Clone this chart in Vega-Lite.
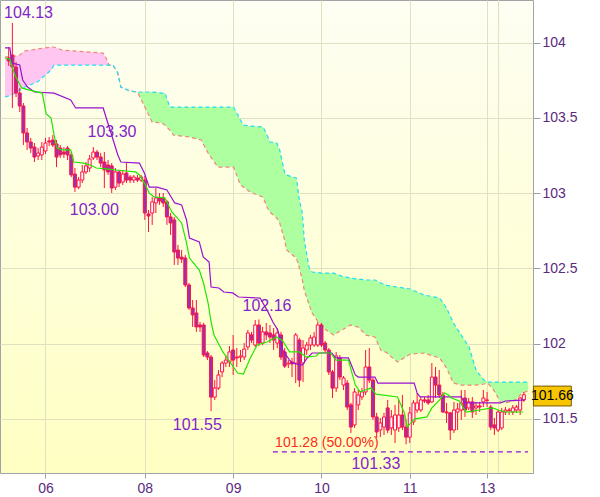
{
"$schema":"https://vega.github.io/schema/vega-lite/v6.json",
"width":533,"height":473,
"autosize":{"type":"none"},
"padding":{"left":0,"top":0,"right":67,"bottom":24},
"background":"#FFFFFF",
"config":{
"view":{"fill":{"gradient":"linear","x1":0,"y1":0,"x2":0,"y2":1,"stops":[{"offset":0,"color":"#FEFEF3"},{"offset":1,"color":"#FFFFC2"}]},"stroke":"#A0A4A8","strokeWidth":1},
"font":"Liberation Sans",
"axis":{"gridColor":"#E0E0C2","gridWidth":1,"domain":false,"labelFont":"Liberation Sans","labelFontSize":14,"labelColor":"#5B2A7E","tickColor":"#9A9EA2","title":null}
},
"datasets":{
"xgrid":[{"i":133.13}],
"candles":[
{"i":0,"o":103.897,"h":103.970,"l":103.844,"c":103.877},
{"i":1,"o":103.917,"h":104.13,"l":103.565,"c":103.837},
{"i":2,"o":103.837,"h":103.871,"l":103.637,"c":103.664},
{"i":3,"o":103.664,"h":103.698,"l":103.538,"c":103.578},
{"i":4,"o":103.578,"h":103.598,"l":103.319,"c":103.399},
{"i":5,"o":103.399,"h":103.432,"l":103.286,"c":103.339},
{"i":6,"o":103.339,"h":103.366,"l":103.266,"c":103.299},
{"i":7,"o":103.305,"h":103.332,"l":103.206,"c":103.239},
{"i":8,"o":103.246,"h":103.299,"l":103.219,"c":103.266},
{"i":9,"o":103.253,"h":103.339,"l":103.219,"c":103.305},
{"i":10,"o":103.279,"h":103.366,"l":103.259,"c":103.332},
{"i":11,"o":103.346,"h":103.372,"l":103.312,"c":103.339},
{"i":12,"o":103.352,"h":103.386,"l":103.305,"c":103.319},
{"i":13,"o":103.326,"h":103.352,"l":103.172,"c":103.239},
{"i":14,"o":103.299,"h":103.319,"l":103.233,"c":103.253},
{"i":15,"o":103.272,"h":103.305,"l":103.233,"c":103.259},
{"i":16,"o":103.299,"h":103.312,"l":103.219,"c":103.253},
{"i":17,"o":103.253,"h":103.272,"l":103.106,"c":103.120},
{"i":18,"o":103.126,"h":103.166,"l":103.007,"c":103.039},
{"i":19,"o":103.039,"h":103.106,"l":103.026,"c":103.086},
{"i":20,"o":103.086,"h":103.186,"l":103.066,"c":103.140},
{"i":21,"o":103.140,"h":103.206,"l":103.126,"c":103.180},
{"i":22,"o":103.166,"h":103.253,"l":103.140,"c":103.226},
{"i":23,"o":103.233,"h":103.305,"l":103.219,"c":103.272},
{"i":24,"o":103.272,"h":103.286,"l":103.219,"c":103.239},
{"i":25,"o":103.239,"h":103.266,"l":103.172,"c":103.199},
{"i":26,"o":103.206,"h":103.272,"l":103.033,"c":103.153},
{"i":27,"o":103.186,"h":103.219,"l":103.120,"c":103.140},
{"i":28,"o":103.180,"h":103.199,"l":103.000,"c":103.033},
{"i":29,"o":103.039,"h":103.166,"l":103.020,"c":103.140},
{"i":30,"o":103.140,"h":103.153,"l":103.039,"c":103.066},
{"i":31,"o":103.073,"h":103.153,"l":103.053,"c":103.126},
{"i":32,"o":103.133,"h":103.199,"l":103.066,"c":103.086},
{"i":33,"o":103.106,"h":103.120,"l":103.066,"c":103.086},
{"i":34,"o":103.086,"h":103.120,"l":103.066,"c":103.106},
{"i":35,"o":103.099,"h":103.120,"l":103.073,"c":103.086},
{"i":36,"o":103.086,"h":103.120,"l":103.073,"c":103.106},
{"i":37,"o":103.086,"h":103.113,"l":102.821,"c":102.867},
{"i":38,"o":102.861,"h":102.887,"l":102.741,"c":102.847},
{"i":39,"o":102.867,"h":102.974,"l":102.788,"c":102.941},
{"i":40,"o":102.934,"h":103.033,"l":102.867,"c":102.967},
{"i":41,"o":102.967,"h":103.000,"l":102.921,"c":102.947},
{"i":42,"o":102.967,"h":103.000,"l":102.907,"c":102.934},
{"i":43,"o":102.941,"h":102.954,"l":102.788,"c":102.841},
{"i":44,"o":102.841,"h":102.867,"l":102.721,"c":102.801},
{"i":45,"o":102.821,"h":102.841,"l":102.522,"c":102.608},
{"i":46,"o":102.621,"h":102.655,"l":102.522,"c":102.568},
{"i":47,"o":102.574,"h":102.621,"l":102.535,"c":102.561},
{"i":48,"o":102.568,"h":102.588,"l":102.375,"c":102.389},
{"i":49,"o":102.389,"h":102.402,"l":102.223,"c":102.236},
{"i":50,"o":102.236,"h":102.289,"l":102.110,"c":102.190},
{"i":51,"o":102.203,"h":102.289,"l":102.077,"c":102.110},
{"i":52,"o":102.123,"h":102.143,"l":102.077,"c":102.110},
{"i":53,"o":102.123,"h":102.137,"l":101.910,"c":101.924},
{"i":54,"o":101.937,"h":101.950,"l":101.890,"c":101.910},
{"i":55,"o":101.910,"h":101.924,"l":101.55,"c":101.644},
{"i":56,"o":101.644,"h":101.757,"l":101.625,"c":101.704},
{"i":57,"o":101.704,"h":101.824,"l":101.691,"c":101.791},
{"i":58,"o":101.811,"h":101.884,"l":101.777,"c":101.870},
{"i":59,"o":101.870,"h":101.924,"l":101.844,"c":101.890},
{"i":60,"o":101.877,"h":101.983,"l":101.844,"c":101.944},
{"i":61,"o":101.957,"h":102.057,"l":101.791,"c":101.890},
{"i":62,"o":101.910,"h":101.970,"l":101.844,"c":101.904},
{"i":63,"o":101.910,"h":101.957,"l":101.877,"c":101.917},
{"i":64,"o":101.910,"h":102.003,"l":101.890,"c":101.963},
{"i":65,"o":101.977,"h":102.090,"l":101.957,"c":102.070},
{"i":66,"o":102.057,"h":102.077,"l":102.003,"c":102.023},
{"i":67,"o":101.990,"h":102.156,"l":101.977,"c":102.123},
{"i":68,"o":102.123,"h":102.16,"l":101.983,"c":102.003},
{"i":69,"o":102.003,"h":102.110,"l":101.990,"c":102.077},
{"i":70,"o":102.077,"h":102.136,"l":102.023,"c":102.057},
{"i":71,"o":102.070,"h":102.123,"l":102.003,"c":102.043},
{"i":72,"o":102.057,"h":102.103,"l":101.957,"c":102.023},
{"i":73,"o":102.003,"h":102.103,"l":101.970,"c":102.070},
{"i":74,"o":102.057,"h":102.077,"l":101.890,"c":101.910},
{"i":75,"o":101.944,"h":101.970,"l":101.837,"c":101.850},
{"i":76,"o":101.864,"h":101.890,"l":101.837,"c":101.870},
{"i":77,"o":101.877,"h":101.904,"l":101.777,"c":101.864},
{"i":78,"o":101.870,"h":102.070,"l":101.737,"c":102.057},
{"i":79,"o":102.023,"h":102.037,"l":101.711,"c":101.757},
{"i":80,"o":101.870,"h":102.023,"l":101.744,"c":101.970},
{"i":81,"o":101.957,"h":102.010,"l":101.924,"c":101.990},
{"i":82,"o":101.990,"h":102.057,"l":101.957,"c":102.037},
{"i":83,"o":101.990,"h":102.077,"l":101.977,"c":102.043},
{"i":84,"o":101.990,"h":102.143,"l":101.977,"c":102.123},
{"i":85,"o":102.123,"h":102.137,"l":101.977,"c":101.990},
{"i":86,"o":102.003,"h":102.017,"l":101.937,"c":101.957},
{"i":87,"o":101.957,"h":101.970,"l":101.791,"c":101.811},
{"i":88,"o":101.811,"h":101.824,"l":101.638,"c":101.704},
{"i":89,"o":101.704,"h":101.944,"l":101.678,"c":101.917},
{"i":90,"o":101.904,"h":101.924,"l":101.757,"c":101.777},
{"i":91,"o":101.724,"h":101.784,"l":101.691,"c":101.771},
{"i":92,"o":101.737,"h":101.757,"l":101.558,"c":101.578},
{"i":93,"o":101.592,"h":101.605,"l":101.405,"c":101.445},
{"i":94,"o":101.459,"h":101.704,"l":101.439,"c":101.678},
{"i":95,"o":101.592,"h":101.691,"l":101.558,"c":101.658},
{"i":96,"o":101.645,"h":101.704,"l":101.625,"c":101.678},
{"i":97,"o":101.678,"h":101.957,"l":101.658,"c":101.844},
{"i":98,"o":101.844,"h":101.970,"l":101.737,"c":101.757},
{"i":99,"o":101.757,"h":101.771,"l":101.492,"c":101.512},
{"i":100,"o":101.512,"h":101.539,"l":101.372,"c":101.412},
{"i":101,"o":101.425,"h":101.505,"l":101.378,"c":101.472},
{"i":102,"o":101.445,"h":101.539,"l":101.392,"c":101.512},
{"i":103,"o":101.572,"h":101.625,"l":101.405,"c":101.425},
{"i":104,"o":101.439,"h":101.558,"l":101.392,"c":101.512},
{"i":105,"o":101.425,"h":101.592,"l":101.339,"c":101.525},
{"i":106,"o":101.439,"h":101.625,"l":101.412,"c":101.525},
{"i":107,"o":101.525,"h":101.658,"l":101.425,"c":101.445},
{"i":108,"o":101.445,"h":101.492,"l":101.33,"c":101.378},
{"i":109,"o":101.378,"h":101.578,"l":101.339,"c":101.539},
{"i":110,"o":101.479,"h":101.625,"l":101.459,"c":101.605},
{"i":111,"o":101.558,"h":101.671,"l":101.539,"c":101.605},
{"i":112,"o":101.558,"h":101.645,"l":101.545,"c":101.625},
{"i":113,"o":101.625,"h":101.645,"l":101.605,"c":101.618},
{"i":114,"o":101.625,"h":101.658,"l":101.592,"c":101.605},
{"i":115,"o":101.612,"h":101.870,"l":101.605,"c":101.777},
{"i":116,"o":101.777,"h":101.844,"l":101.638,"c":101.724},
{"i":117,"o":101.724,"h":101.824,"l":101.638,"c":101.658},
{"i":118,"o":101.658,"h":101.678,"l":101.539,"c":101.545},
{"i":119,"o":101.545,"h":101.605,"l":101.472,"c":101.539},
{"i":120,"o":101.539,"h":101.545,"l":101.359,"c":101.425},
{"i":121,"o":101.425,"h":101.612,"l":101.405,"c":101.558},
{"i":122,"o":101.545,"h":101.605,"l":101.425,"c":101.565},
{"i":123,"o":101.558,"h":101.691,"l":101.492,"c":101.605},
{"i":124,"o":101.638,"h":101.691,"l":101.512,"c":101.558},
{"i":125,"o":101.572,"h":101.638,"l":101.558,"c":101.612},
{"i":126,"o":101.612,"h":101.645,"l":101.505,"c":101.545},
{"i":127,"o":101.572,"h":101.612,"l":101.525,"c":101.585},
{"i":128,"o":101.585,"h":101.612,"l":101.545,"c":101.578},
{"i":129,"o":101.612,"h":101.691,"l":101.578,"c":101.638},
{"i":130,"o":101.625,"h":101.678,"l":101.578,"c":101.622},
{"i":131,"o":101.578,"h":101.592,"l":101.425,"c":101.445},
{"i":132,"o":101.459,"h":101.505,"l":101.392,"c":101.439},
{"i":133,"o":101.425,"h":101.558,"l":101.412,"c":101.545},
{"i":134,"o":101.439,"h":101.572,"l":101.425,"c":101.545},
{"i":135,"o":101.545,"h":101.578,"l":101.525,"c":101.558},
{"i":136,"o":101.558,"h":101.572,"l":101.525,"c":101.555},
{"i":137,"o":101.545,"h":101.592,"l":101.525,"c":101.572},
{"i":138,"o":101.558,"h":101.592,"l":101.539,"c":101.578},
{"i":139,"o":101.558,"h":101.645,"l":101.525,"c":101.638},
{"i":140,"o":101.625,"h":101.678,"l":101.612,"c":101.66}
],
"cloud":[
{"i":-1,"a":103.638,"b":103.904},{"i":0.87,"a":103.651,"b":103.904},{"i":3,"a":103.684,"b":103.917},{"i":4.33,"a":103.704,"b":103.943},
{"i":7.8,"a":103.737,"b":103.957},{"i":11.53,"a":103.817,"b":103.970},{"i":12.33,"a":103.850,"b":103.970},{"i":14.47,"a":103.850,"b":103.950},
{"i":25.67,"a":103.850,"b":103.930},{"i":26.47,"a":103.850,"b":103.897},{"i":27.27,"a":103.850,"b":103.850},{"i":28.33,"a":103.850,"b":103.850},
{"i":29.67,"a":103.797,"b":103.797},{"i":30.47,"a":103.704,"b":103.704},{"i":32.87,"a":103.678,"b":103.678},{"i":35,"a":103.671,"b":103.671},
{"i":39,"a":103.671,"b":103.471},{"i":41.67,"a":103.664,"b":103.465},{"i":42.47,"a":103.664,"b":103.451},{"i":43.8,"a":103.571,"b":103.418},
{"i":44.87,"a":103.571,"b":103.385},{"i":49.13,"a":103.571,"b":103.372},{"i":52.33,"a":103.571,"b":103.352},{"i":54.2,"a":103.571,"b":103.265},
{"i":56.87,"a":103.571,"b":103.172},{"i":61.13,"a":103.571,"b":103.172},{"i":63,"a":103.485,"b":103.053},{"i":63.8,"a":103.451,"b":103.040},
{"i":65.67,"a":103.445,"b":103.006},{"i":69.13,"a":103.438,"b":102.973},{"i":70.2,"a":103.385,"b":102.907},{"i":71,"a":103.339,"b":102.873},
{"i":72.87,"a":103.332,"b":102.834},{"i":73.67,"a":103.285,"b":102.800},{"i":75,"a":103.133,"b":102.687},{"i":75.53,"a":103.119,"b":102.621},
{"i":78.2,"a":103.099,"b":102.568},{"i":79,"a":102.953,"b":102.501},{"i":79.8,"a":102.867,"b":102.422},{"i":80.33,"a":102.687,"b":102.355},
{"i":81.67,"a":102.501,"b":102.255},{"i":82.47,"a":102.475,"b":102.202},{"i":85.13,"a":102.468,"b":102.109},{"i":88.33,"a":102.468,"b":102.056},
{"i":90.47,"a":102.448,"b":102.089},{"i":92.87,"a":102.435,"b":102.123},{"i":95,"a":102.428,"b":102.109},{"i":97.13,"a":102.422,"b":102.056},
{"i":99.53,"a":102.422,"b":102.043},{"i":101.13,"a":102.402,"b":101.956},{"i":102.47,"a":102.388,"b":101.943},{"i":105.67,"a":102.375,"b":101.877},
{"i":109.13,"a":102.362,"b":101.930},{"i":112.87,"a":102.322,"b":101.937},{"i":117.13,"a":102.302,"b":101.903},{"i":119,"a":102.236,"b":101.837},
{"i":120.87,"a":102.136,"b":101.737},{"i":123,"a":102.056,"b":101.724},{"i":125.13,"a":101.976,"b":101.724},{"i":127,"a":101.824,"b":101.724},
{"i":129.13,"a":101.757,"b":101.731},{"i":130.2,"a":101.744,"b":101.737},{"i":131.8,"a":101.744,"b":101.691},{"i":133.67,"a":101.744,"b":101.611},
{"i":135,"a":101.744,"b":101.604},{"i":137.67,"a":101.744,"b":101.624},{"i":139.53,"a":101.744,"b":101.671},{"i":141.13,"a":101.744,"b":101.684}
],
"kijun":[
{"i":-1,"p":103.964},{"i":0.33,"p":103.964},{"i":0.87,"p":103.864},{"i":3,"p":103.851},{"i":3.8,"p":103.751},{"i":5.13,"p":103.704},
{"i":7,"p":103.671},{"i":12.33,"p":103.664},{"i":16.87,"p":103.618},{"i":18.2,"p":103.565},{"i":25.67,"p":103.565},{"i":27.8,"p":103.399},
{"i":29.67,"p":103.253},{"i":30.47,"p":103.206},{"i":35.53,"p":103.199},{"i":36.87,"p":103.133},{"i":38.2,"p":103.039},{"i":40.33,"p":103.039},
{"i":43,"p":103.020},{"i":45.13,"p":102.934},{"i":47,"p":102.921},{"i":48.33,"p":102.821},{"i":49.13,"p":102.701},{"i":51.8,"p":102.675},
{"i":52.87,"p":102.575},{"i":54.47,"p":102.542},{"i":55,"p":102.375},{"i":57.13,"p":102.369},{"i":58.47,"p":102.342},{"i":60.87,"p":102.336},
{"i":62.47,"p":102.309},{"i":68.33,"p":102.302},{"i":70.47,"p":102.210},{"i":71.8,"p":102.143},{"i":73.13,"p":102.090},{"i":74.47,"p":101.957},
{"i":76.33,"p":101.890},{"i":77.13,"p":101.870},{"i":79.8,"p":101.857},{"i":81.13,"p":101.904},{"i":82.47,"p":101.937},{"i":87.8,"p":101.937},
{"i":88.87,"p":101.904},{"i":92.33,"p":101.904},{"i":93.13,"p":101.857},{"i":94.2,"p":101.791},{"i":95,"p":101.777},{"i":99.53,"p":101.777},
{"i":100.33,"p":101.737},{"i":110.2,"p":101.737},{"i":111,"p":101.671},{"i":111.8,"p":101.645},{"i":123,"p":101.645},{"i":123.8,"p":101.605},
{"i":133.67,"p":101.605},{"i":135,"p":101.618},{"i":140.33,"p":101.625}
],
"tenkan":[
{"i":-1,"p":103.897},{"i":0.33,"p":103.890},{"i":1.67,"p":103.784},{"i":3.53,"p":103.698},{"i":5.67,"p":103.684},{"i":9.13,"p":103.664},
{"i":10.2,"p":103.525},{"i":11.53,"p":103.498},{"i":12.33,"p":103.386},{"i":13.13,"p":103.299},{"i":14.47,"p":103.286},{"i":16.87,"p":103.286},
{"i":17.67,"p":103.206},{"i":20.33,"p":103.199},{"i":22.2,"p":103.186},{"i":23.8,"p":103.166},{"i":26.47,"p":103.160},{"i":29.13,"p":103.153},
{"i":34.47,"p":103.140},{"i":35.53,"p":103.120},{"i":36.87,"p":103.066},{"i":38.2,"p":103.000},{"i":39.53,"p":102.974},{"i":42.47,"p":102.967},
{"i":44.33,"p":102.874},{"i":47,"p":102.801},{"i":48.33,"p":102.668},{"i":49.13,"p":102.568},{"i":51.8,"p":102.488},{"i":52.87,"p":102.409},
{"i":54.2,"p":102.269},{"i":55,"p":102.143},{"i":55.8,"p":102.057},{"i":58.2,"p":101.944},{"i":59.8,"p":101.890},{"i":62.2,"p":101.804},
{"i":63.8,"p":101.797},{"i":65.67,"p":101.904},{"i":67.53,"p":101.990},{"i":70.2,"p":102.010},{"i":72.87,"p":102.043},{"i":74.47,"p":102.017},
{"i":76.33,"p":101.944},{"i":79,"p":101.944},{"i":80.87,"p":101.910},{"i":83.53,"p":101.917},{"i":84.33,"p":101.937},{"i":87.53,"p":101.937},
{"i":88.87,"p":101.890},{"i":92.33,"p":101.890},{"i":94.2,"p":101.724},{"i":95.53,"p":101.678},{"i":96.87,"p":101.691},{"i":98.47,"p":101.704},
{"i":99.8,"p":101.664},{"i":105.67,"p":101.645},{"i":107.53,"p":101.539},{"i":108.33,"p":101.445},{"i":110.2,"p":101.498},{"i":113.67,"p":101.512},
{"i":115,"p":101.572},{"i":117.13,"p":101.625},{"i":118.47,"p":101.671},{"i":119.53,"p":101.658},{"i":120.33,"p":101.638},{"i":122.47,"p":101.618},
{"i":124.33,"p":101.545},{"i":127.8,"p":101.558},{"i":131.53,"p":101.572},{"i":133.13,"p":101.558},{"i":135,"p":101.545},{"i":139.8,"p":101.545}
],
"labels":[
{"i":5.4,"p":104.196,"t":"104.13"},
{"i":28.07,"p":103.405,"t":"103.30"},
{"i":23.27,"p":102.887,"t":"103.00"},
{"i":70.2,"p":102.249,"t":"102.16"},
{"i":51.27,"p":101.459,"t":"101.55"},
{"i":99.8,"p":101.199,"t":"101.33"}
],
"fib":[{"i":71.8,"i2":141.13,"p":101.28,"t":"101.28 (50.00%)","ti":86.47,"tp":101.339}],
"last":[{"i":142.6,"i2":152.9,"p1":101.717,"p2":101.585,"ti":147.75,"p":101.651,"t":"101.66"}]
},
"encoding":{
"x":{"field":"i","type":"quantitative","scale":{"domain":[-1,141.13],"nice":false,"zero":false},
"axis":{"values":[10,37,61,85,109,130],"labelExpr":"datum.value==10?'06':datum.value==37?'08':datum.value==61?'09':datum.value==85?'10':datum.value==109?'11':'13'","tickSize":5,"labelPadding":3,"grid":true,"labelFlush":false,"labelAlign":"center","title":null}}
},
"layer":[
{"data":{"name":"xgrid"},"mark":{"type":"rule","color":"#E0E0C2","strokeWidth":1},"encoding":{}},
{"data":{"name":"candles"},"mark":{"type":"rule","color":"#FF1040","strokeWidth":1},
"encoding":{"y":{"field":"l","type":"quantitative","scale":{"domain":[101.1396,104.2824],"nice":false,"zero":false},
"axis":{"orient":"right","title":null,"values":[101.5,102,102.5,103,103.5,104],"labelExpr":"format(datum.value,'.5~g')","tickSize":7,"labelPadding":2,"grid":true,"labelAlign":"left","labelBaseline":"middle"}},
"y2":{"field":"h"},"opacity":{"value":0}}},
{"data":{"name":"cloud"},"transform":[{"filter":"datum.i <= 27.27"}],"mark":{"type":"area","color":"#FFC6F2","opacity":1},
"encoding":{"y":{"field":"a","type":"quantitative"},"y2":{"field":"b"}}},
{"data":{"name":"cloud"},"transform":[{"filter":"datum.i >= 27.27"}],"mark":{"type":"area","color":"#AEFFA0","opacity":1},
"encoding":{"y":{"field":"a","type":"quantitative"},"y2":{"field":"b"}}},
{"data":{"name":"cloud"},"mark":{"type":"line","color":"#F08878","strokeWidth":1.2,"strokeDash":[4,3]},
"encoding":{"y":{"field":"b","type":"quantitative"}}},
{"data":{"name":"cloud"},"mark":{"type":"line","color":"#22DDF5","strokeWidth":1.2,"strokeDash":[4,3]},
"encoding":{"y":{"field":"a","type":"quantitative"}}},
{"data":{"name":"candles"},"mark":{"type":"rule","color":"#FF1040","strokeWidth":1},
"encoding":{"y":{"field":"l","type":"quantitative"},"y2":{"field":"h"}}},
{"data":{"name":"candles"},"mark":{"type":"bar","size":3,"stroke":"#FF1040","strokeWidth":1},
"encoding":{"y":{"field":"o","type":"quantitative"},"y2":{"field":"c"},
"fill":{"condition":{"test":"datum.c > datum.o","value":"#FFFFFF"},"value":"#9B30B0"}}},
{"data":{"name":"kijun"},"mark":{"type":"line","color":"#9A10D0","strokeWidth":1.2},
"encoding":{"y":{"field":"p","type":"quantitative"}}},
{"data":{"name":"tenkan"},"mark":{"type":"line","color":"#22E600","strokeWidth":1.2},
"encoding":{"y":{"field":"p","type":"quantitative"}}},
{"data":{"name":"fib"},"mark":{"type":"rule","color":"#8A10E0","strokeWidth":1.2,"strokeDash":[5,4]},
"encoding":{"x2":{"field":"i2"},"y":{"field":"p","type":"quantitative"}}},
{"data":{"name":"fib"},"mark":{"type":"text","color":"#FF2A1A","fontSize":14,"font":"Liberation Sans","align":"center","baseline":"middle"},
"encoding":{"x":{"field":"ti","type":"quantitative"},"y":{"field":"tp","type":"quantitative"},"text":{"field":"t"}}},
{"data":{"name":"labels"},"mark":{"type":"text","color":"#8424CC","fontSize":16,"font":"Liberation Sans","align":"center","baseline":"middle"},
"encoding":{"y":{"field":"p","type":"quantitative"},"text":{"field":"t"}}},
{"data":{"name":"last"},"mark":{"type":"rect","fill":"#F7C600","stroke":"#7A5A00","strokeWidth":1},
"encoding":{"x2":{"field":"i2"},"y":{"field":"p1","type":"quantitative"},"y2":{"field":"p2"}}},
{"data":{"name":"last"},"mark":{"type":"text","color":"#000000","fontSize":14,"font":"Liberation Sans","align":"center","baseline":"middle"},
"encoding":{"x":{"field":"ti","type":"quantitative"},"y":{"field":"p","type":"quantitative"},"text":{"field":"t"}}}
]
}
